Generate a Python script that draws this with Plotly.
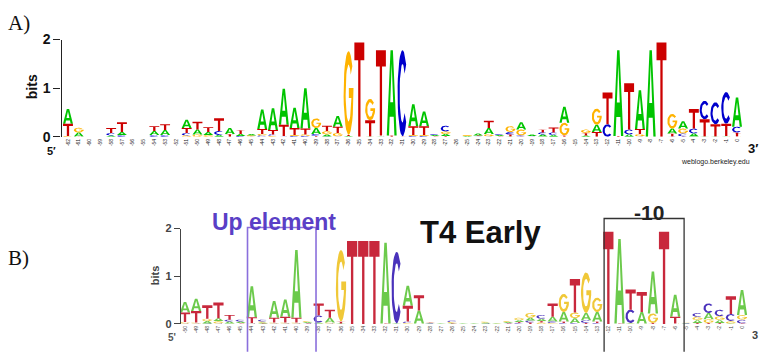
import math
import plotly.graph_objects as go

# ---------------- data ----------------
# Panel A (weblogo, positions -62..0): information content (bits) per base
POS_A = list(range(-62, 1))
A_BITS_A = [0.30, 0.08, 0, 0, 0.03, 0.06, 0, 0, 0.08, 0.10, 0, 0.17, 0.10, 0.06, 0.04, 0.12, 0.04, 0.03,
            0.40, 0.45, 0.74, 0.42, 0.83, 0.12, 0.04, 0.22, 0.02, 0.00, 0.01, 0.01, 1.75, 0.00, 0.45, 0.30,
            0.02, 0.04, 0, 0.02, 0.04, 0.12, 0.02, 0.01, 0.15, 0.03, 0.04, 0.04, 0.33, 0, 0.03, 0.15,
            0.00, 1.76, 0.05, 0.80, 1.78, 0, 0.10, 0.15, 0.06, 0.01, 0.01, 0.01, 0.60]
C_BITS_A = [0.00, 0.00, 0, 0, 0.05, 0.04, 0, 0, 0.04, 0.04, 0, 0.05, 0.00, 0.00, 0.08, 0.00, 0.02, 0.00,
            0.03, 0.03, 0.01, 0.02, 0.02, 0.04, 0.01, 0.01, 0.00, 0.00, 0.00, 0.01, 0.00, 1.77, 0.02, 0.02,
            0.02, 0.12, 0, 0.00, 0.01, 0.01, 0.02, 0.05, 0.02, 0.01, 0.04, 0.05, 0.00, 0, 0.00, 0.00,
            0.26, 0.00, 0.10, 0.01, 0, 0, 0.01, 0.06, 0.10, 0.38, 0.45, 0.65, 0.12]
G_BITS_A = [0.02, 0.10, 0, 0, 0.00, 0.00, 0, 0, 0.00, 0.00, 0, 0.03, 0.05, 0.04, 0.00, 0.00, 0.00, 0.02,
            0.03, 0.02, 0.01, 0.02, 0.03, 0.20, 0.07, 0.07, 1.72, 0.00, 0.44, 0.01, 0.00, 0.00, 0.02, 0.02,
            0.01, 0.05, 0, 0.02, 0.01, 0.05, 0.01, 0.12, 0.12, 0.01, 0.01, 0.00, 0.26, 0, 0.07, 0.33,
            0.00, 0.00, 0.00, 0.05, 0, 0, 0.30, 0.10, 0.01, 0.00, 0.00, 0.01, 0.01]
T_BITS_A = [0.25, 0.01, 0, 0, 0.10, 0.20, 0, 0, 0.10, 0.12, 0, 0.10, 0.16, 0.10, 0.26, 0.06, 0.08, 0.01,
            0.10, 0.09, 0.23, 0.14, 0.12, 0.02, 0.11, 0.13, 0.02, 1.94, 0.33, 1.75, 0.03, 0.01, 0.18, 0.18,
            0.01, 0.02, 0, 0.00, 0.01, 0.15, 0.01, 0.04, 0.01, 0.00, 0.06, 0.10, 0.03, 0, 0.05, 0.10,
            0.65, 0.02, 0.95, 0.10, 0, 1.94, 0.06, 0.01, 0.40, 0.35, 0.25, 0.25, 0.08]

# Panel B (T4 early promoters, positions -50..0)
POS_B = list(range(-50, 1))
A_BITS_B = [0.22, 0.26, 0.05, 0.06, 0.04, 0.03, 0.65, 0.02, 0.35, 0.36, 1.42, 0.02, 0.02, 0.10, 0.01, 0.00,
            0.00, 0.00, 1.69, 0.01, 0.42, 0.27, 0.01, 0.01, 0.01, 0.01, 0.01, 0.02, 0.01, 0.02, 0.04, 0.06,
            0.05, 0.10, 0.20, 0.10, 0.15, 0.20, 0.00, 1.77, 0.01, 0.24, 0.88, 0.00, 0.46, 0.01, 0.06, 0.13,
            0.06, 0.01, 0.52]
C_BITS_B = [0.01, 0.01, 0.01, 0.01, 0.04, 0.04, 0.01, 0.04, 0.01, 0.01, 0.01, 0.01, 0.15, 0.01, 0.00, 0.00,
            0.00, 0.00, 0.00, 1.50, 0.03, 0.00, 0.01, 0.00, 0.03, 0.00, 0.00, 0.01, 0.00, 0.01, 0.02, 0.04,
            0.08, 0.03, 0.02, 0.02, 0.06, 0.02, 0.00, 0.00, 0.28, 0.00, 0.00, 0.00, 0.00, 0.01, 0.08, 0.20,
            0.14, 0.15, 0.08]
G_BITS_B = [0.03, 0.02, 0.05, 0.05, 0.01, 0.01, 0.01, 0.02, 0.02, 0.02, 0.02, 0.02, 0.01, 0.02, 1.50, 0.00,
            0.00, 0.00, 0.00, 0.00, 0.02, 0.01, 0.01, 0.00, 0.02, 0.00, 0.00, 0.02, 0.01, 0.02, 0.05, 0.10,
            0.03, 0.02, 0.38, 0.12, 0.85, 0.30, 0.00, 0.00, 0.01, 0.01, 0.20, 0.00, 0.01, 0.01, 0.07, 0.08,
            0.08, 0.05, 0.10]
T_BITS_B = [0.20, 0.24, 0.28, 0.33, 0.10, 0.01, 0.12, 0.01, 0.10, 0.12, 0.10, 0.01, 0.25, 0.17, 0.04, 1.74,
            1.74, 1.74, 0.01, 0.00, 0.33, 0.32, 0.01, 0.00, 0.01, 0.00, 0.00, 0.00, 0.00, 0.01, 0.02, 0.03,
            0.03, 0.28, 0.03, 0.70, 0.02, 0.03, 1.93, 0.01, 0.42, 0.42, 0.02, 1.93, 0.14, 0.00, 0.02, 0.02,
            0.02, 0.37, 0.01]

BASES = ["A", "C", "G", "T"]
COLORS_A = {"A": "#00c400", "C": "#0000cc", "G": "#ffb300", "T": "#cc0000"}
COLORS_B = {"A": "#6cca4c", "C": "#4a32bb", "G": "#f0c838", "T": "#c8283c"}

UP_ELEMENT = (-44.39, -38.24)   # box limits (position units)
MINUS10 = (-12.38, -5.2)


# ---------------- glyph outlines (unit box) ----------------
def arc(cx, cy, rx, ry, a0, a1, n=28):
    return [(cx + rx * math.cos(math.radians(a0 + (a1 - a0) * k / n)),
             cy + ry * math.sin(math.radians(a0 + (a1 - a0) * k / n))) for k in range(n + 1)]


def glyph(letter):
    if letter == "A":
        outer = [(0, 0), (0.23, 0), (0.3, 0.22), (0.7, 0.22), (0.77, 0), (1, 0), (0.62, 1), (0.38, 1)]
        hole = [(0.354, 0.39), (0.5, 0.84), (0.646, 0.39)]
        return [outer, hole]
    if letter == "T":
        return [[(0.385, 0), (0.615, 0), (0.615, 0.81), (1, 0.81), (1, 1), (0, 1), (0, 0.81), (0.385, 0.81)]]
    if letter == "C":
        return [arc(0.5, 0.5, 0.5, 0.5, 42, 318) + arc(0.5, 0.5, 0.29, 0.34, 318, 42)]
    if letter == "G":
        th = math.degrees(math.asin((0.44 - 0.5) / 0.34))  # inner arc angle at bar bottom
        pts = arc(0.5, 0.5, 0.5, 0.5, 40, 352)
        pts += [(1.0, 0.43), (1.0, 0.56), (0.53, 0.56), (0.53, 0.44)]
        pts += arc(0.5, 0.5, 0.29, 0.34, 360 + th, 40)
        return [pts]
    return []


def logo_traces(pos, bits, colors, xa, ya, width=0.92):
    xs = {b: [] for b in BASES}
    ys = {b: [] for b in BASES}
    for i, p in enumerate(pos):
        stack = sorted(((bits[b][i], b) for b in BASES), key=lambda t: t[0])
        base = 0.0
        for h, b in stack:
            if h <= 0:
                continue
            for poly in glyph(b):
                for gx, gy in poly:
                    xs[b].append(p - width / 2 + gx * width)
                    ys[b].append(base + gy * h)
                xs[b].append(None)
                ys[b].append(None)
            base += h
    out = []
    for b in BASES:
        out.append(go.Scatter(x=xs[b], y=ys[b], mode="lines", fill="toself",
                              fillcolor=colors[b], line=dict(width=0, color=colors[b]),
                              hoverinfo="skip", showlegend=False, xaxis=xa, yaxis=ya))
    return out


fig = go.Figure()
for t in logo_traces(POS_A, {"A": A_BITS_A, "C": C_BITS_A, "G": G_BITS_A, "T": T_BITS_A}, COLORS_A, "x", "y"):
    fig.add_trace(t)
for t in logo_traces(POS_B, {"A": A_BITS_B, "C": C_BITS_B, "G": G_BITS_B, "T": T_BITS_B}, COLORS_B, "x2", "y2"):
    fig.add_trace(t)

W, H = 760, 352


def px(x):
    return x / W


def py(y):
    return 1 - y / H


SANS = "Liberation Sans, Arial, sans-serif"
SERIF = "Liberation Serif, Times New Roman, serif"

fig.update_layout(
    width=W, height=H, autosize=False,
    margin=dict(l=0, r=0, t=0, b=0),
    paper_bgcolor="white", plot_bgcolor="rgba(0,0,0,0)",
    showlegend=False,
    xaxis=dict(domain=[px(61.5), px(743.5)], range=[-62.6, 0.6], anchor="y",
               tickvals=POS_A, ticktext=[str(p) for p in POS_A], tickangle=-90,
               tickfont=dict(family=SANS, size=5, color="#222"), ticks="",
               showline=False, showgrid=False, zeroline=False),
    yaxis=dict(domain=[py(135), py(33)], range=[0, 2], anchor="x",
               tickvals=[0, 1, 2], ticktext=["0", "1", "2"], ticks="outside", ticklen=7,
               tickcolor="#222", tickwidth=1.2, showline=True, linecolor="#222", linewidth=1.2,
               tickfont=dict(family=SANS, size=14, color="#111", weight="bold"),
               showgrid=False, zeroline=False),
    xaxis2=dict(domain=[px(181), px(747.6)], range=[-50.36, 0.5], anchor="y2",
                tickvals=POS_B, ticktext=[str(p) for p in POS_B], tickangle=-90,
                tickfont=dict(family=SANS, size=5, color="#444"), ticks="",
                showline=False, showgrid=False, zeroline=False),
    yaxis2=dict(domain=[py(331), py(231)], range=[0, 2], anchor="x2",
                tickvals=[0, 1, 2], ticktext=["0", "1", "2"], ticks="outside", ticklen=6,
                tickcolor="#444", tickwidth=1.2, showline=True, linecolor="#444", linewidth=1.2,
                tickfont=dict(family=SANS, size=11, color="#444", weight="bold"),
                showgrid=False, zeroline=False),
)

# boxes in panel B (x in data units, y in paper units)
fig.add_shape(type="path", xref="x2", yref="paper",
              path=f"M {UP_ELEMENT[0]} {py(360)} L {UP_ELEMENT[0]} {py(230)} L {UP_ELEMENT[1]} {py(230)} L {UP_ELEMENT[1]} {py(360)}",
              line=dict(color="#8a6fdc", width=1.6))
fig.add_shape(type="path", xref="x2", yref="paper",
              path=f"M {MINUS10[0]} {py(360)} L {MINUS10[0]} {py(220.5)} L {MINUS10[1]} {py(220.5)} L {MINUS10[1]} {py(360)}",
              line=dict(color="#333333", width=1.3))


def ann(text, x, y, size, family=SANS, color="#111", weight="normal", angle=0, xanchor="center"):
    fig.add_annotation(text=text, x=px(x), y=py(y), xref="paper", yref="paper", showarrow=False,
                       xanchor=xanchor, yanchor="middle", textangle=angle,
                       font=dict(family=family, size=size, color=color, weight=weight))


ann("A)", 6, 16, 21, family=SERIF, color="#111", xanchor="left")
ann("B)", 6, 262, 21, family=SERIF, color="#111", xanchor="left")
ann("bits", 32, 83, 14, weight="bold", angle=-90)
ann("5′", 51, 150, 11, weight="bold")
ann("3′", 753, 147, 13, weight="bold")
ann("weblogo.berkeley.edu", 715, 161, 7, color="#222")
ann("bits", 155, 280, 11, color="#444", weight="bold", angle=-90)
ann("5'", 172, 345, 10, color="#555", weight="bold")
ann("3", 755, 343, 11, color="#444", weight="bold")
ann("Up element", 274, 224, 23, color="#5a3fc6", weight="bold")
ann("T4 Early", 480, 235, 31, color="#111", weight="bold")
ann("-10", 649, 214, 21, color="#222", weight="bold")

fig.write_html("out.html")
